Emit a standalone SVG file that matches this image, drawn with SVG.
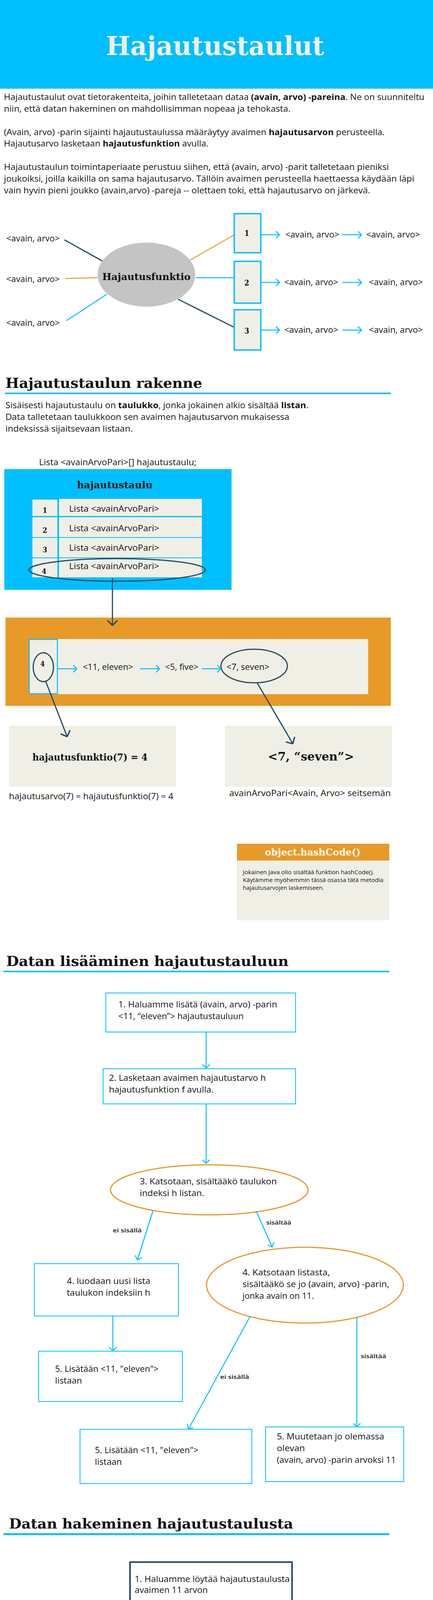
<svg xmlns="http://www.w3.org/2000/svg" width="1109" height="5387" viewBox="0 0 1109 5387">
<defs>
<style>
.t{font-family:"Open Sans","Liberation Sans",sans-serif;font-size:21px;fill:#161616}
.sm{font-size:15px;font-weight:600}
.b{font-weight:bold}
.slab{font-family:"DejaVu Serif Condensed","DejaVu Serif","Liberation Serif",serif;font-weight:bold;fill:#111}
.h2{font-size:36px}
.cream{fill:#f0efe6}
.bbox{fill:#fff;stroke:#00bfff;stroke-width:2}
.dbox{fill:#fff;stroke:#264a60;stroke-width:4}
.cb{stroke:#00bfff;stroke-width:2.5;fill:none}
.cd{stroke:#264a60;stroke-width:3;fill:none}
.co{stroke:#e89a28;stroke-width:2.5;fill:none}
.ul{fill:#00bfff}
</style>
<marker id="arrB" viewBox="0 0 11 20" markerWidth="11" markerHeight="20" refX="10" refY="10" orient="auto" markerUnits="userSpaceOnUse">
<path d="M1,1 L10,10 L1,19" fill="none" stroke="#00bfff" stroke-width="2.5"/>
</marker>
<marker id="arrD" viewBox="0 0 15 28" markerWidth="15" markerHeight="28" refX="14" refY="14" orient="auto" markerUnits="userSpaceOnUse">
<path d="M1,1 L14,14 L1,27" fill="none" stroke="#264a60" stroke-width="3.5"/>
</marker>
</defs>
<rect width="1109" height="5387" fill="#fff"/>

<!-- Header -->
<g id="header">
<rect x="0" y="0" width="1109" height="227" fill="#00bfff"/>
<text class="slab" x="551" y="141" font-size="67" text-anchor="middle" style="fill:#f1f0e8" textLength="559" lengthAdjust="spacingAndGlyphs">Hajautustaulut</text>
</g>

<g id="intro" class="t">
<text class="t" x="10" y="256" textLength="1077" lengthAdjust="spacingAndGlyphs">Hajautustaulut ovat tietorakenteita, joihin talletetaan dataa <tspan class="b">(avain, arvo) -pareina</tspan>. Ne on suunniteltu</text>
<text class="t" x="10" y="286" textLength="734" lengthAdjust="spacingAndGlyphs">niin, että datan hakeminen on mahdollisimman nopeaa ja tehokasta.</text>
<text class="t" x="10" y="346" textLength="975" lengthAdjust="spacingAndGlyphs">(Avain, arvo) -parin sijainti hajautustaulussa määräytyy avaimen <tspan class="b">hajautusarvon</tspan> perusteella.</text>
<text class="t" x="10" y="375" textLength="524" lengthAdjust="spacingAndGlyphs">Hajautusarvo lasketaan <tspan class="b">hajautusfunktion</tspan> avulla.</text>
<text class="t" x="10" y="435" textLength="986" lengthAdjust="spacingAndGlyphs">Hajautustaulun toimintaperiaate perustuu siihen, että (avain, arvo) -parit talletetaan  pieniksi</text>
<text class="t" x="10" y="465" textLength="1051" lengthAdjust="spacingAndGlyphs">joukoiksi, joilla kaikilla on sama hajautusarvo. Tällöin avaimen perusteella haettaessa käydään läpi</text>
<text class="t" x="10" y="495" textLength="938" lengthAdjust="spacingAndGlyphs">vain hyvin pieni joukko (avain,arvo) -pareja -- olettaen toki, että hajautusarvo on järkevä.</text>
</g>

<!-- Section 1 diagram -->
<g id="connectors1">
<line class="cd" x1="165" y1="614" x2="262" y2="668" stroke-width="2"/>
<line class="co" x1="167" y1="713" x2="250" y2="711"/>
<line class="cb" x1="170" y1="821" x2="274" y2="753" stroke-width="2"/>
<line class="co" x1="487" y1="666" x2="600" y2="601" stroke-width="2"/>
<line class="cb" x1="501" y1="711" x2="600" y2="711" stroke-width="2"/>
<line class="cd" x1="456" y1="766" x2="600" y2="838" stroke-width="2"/>
<line class="cb" x1="668" y1="601" x2="716" y2="601" marker-end="url(#arrB)"/>
<line class="cb" x1="877" y1="601" x2="926" y2="601" marker-end="url(#arrB)"/>
<line class="cb" x1="668" y1="723" x2="716" y2="723" marker-end="url(#arrB)"/>
<line class="cb" x1="877" y1="723" x2="926" y2="723" marker-end="url(#arrB)"/>
<line class="cb" x1="668" y1="845" x2="716" y2="845" marker-end="url(#arrB)"/>
<line class="cb" x1="877" y1="845" x2="926" y2="845" marker-end="url(#arrB)"/>
</g>
<g id="in-labels">
<text class="t" x="16" y="618" textLength="137" lengthAdjust="spacingAndGlyphs">&lt;avain, arvo&gt;</text>
<text class="t" x="16" y="722" textLength="137" lengthAdjust="spacingAndGlyphs">&lt;avain, arvo&gt;</text>
<text class="t" x="16" y="834" textLength="137" lengthAdjust="spacingAndGlyphs">&lt;avain, arvo&gt;</text>
</g>
<g id="hashfunc">
<ellipse cx="375" cy="703" rx="125" ry="82" fill="#c4c4c4"/>
<text class="slab" x="375" y="717" font-size="25" text-anchor="middle" textLength="226" lengthAdjust="spacingAndGlyphs">Hajautusfunktio</text>
</g>
<g id="bucket1">
<rect x="600" y="547" width="68" height="100" class="cream" stroke="#00bfff" stroke-width="3.5"/>
<text class="slab" x="632" y="604" font-size="20" text-anchor="middle">1</text>
</g>
<g id="bucket2">
<rect x="600" y="669" width="68" height="107" class="cream" stroke="#00bfff" stroke-width="3.5"/>
<text class="slab" x="632" y="731" font-size="20" text-anchor="middle">2</text>
</g>
<g id="bucket3">
<rect x="600" y="793" width="68" height="103" class="cream" stroke="#00bfff" stroke-width="3.5"/>
<text class="slab" x="632" y="854" font-size="20" text-anchor="middle">3</text>
</g>
<g id="pairs">
<text class="t" x="731" y="608" textLength="138" lengthAdjust="spacingAndGlyphs">&lt;avain, arvo&gt;</text>
<text class="t" x="938" y="608" textLength="138" lengthAdjust="spacingAndGlyphs">&lt;avain, arvo&gt;</text>
<text class="t" x="728" y="730" textLength="138" lengthAdjust="spacingAndGlyphs">&lt;avain, arvo&gt;</text>
<text class="t" x="945" y="730" textLength="138" lengthAdjust="spacingAndGlyphs">&lt;avain, arvo&gt;</text>
<text class="t" x="728" y="852" textLength="138" lengthAdjust="spacingAndGlyphs">&lt;avain, arvo&gt;</text>
<text class="t" x="945" y="852" textLength="138" lengthAdjust="spacingAndGlyphs">&lt;avain, arvo&gt;</text>
</g>

<!-- Section 2 -->
<g id="sec2-head">
<text class="slab h2" x="14" y="993" textLength="504" lengthAdjust="spacingAndGlyphs">Hajautustaulun rakenne</text>
<rect class="ul" x="13" y="1005" width="988" height="4"/>
<text class="t" x="14" y="1045" textLength="776" lengthAdjust="spacingAndGlyphs">Sisäisesti hajautustaulu on <tspan class="b">taulukko</tspan>, jonka jokainen alkio sisältää <tspan class="b">listan</tspan>.</text>
<text class="t" x="14" y="1075" textLength="727" lengthAdjust="spacingAndGlyphs">Data talletetaan taulukkoon sen avaimen hajautusarvon mukaisessa</text>
<text class="t" x="14" y="1105" textLength="326" lengthAdjust="spacingAndGlyphs">indeksissä sijaitsevaan listaan.</text>
<text class="t" x="100" y="1191" textLength="403" lengthAdjust="spacingAndGlyphs">Lista &lt;avainArvoPari&gt;[] hajautustaulu;</text>
</g>
<g id="table">
<rect x="11" y="1201" width="582" height="309" fill="#00bfff"/>
<text class="slab" x="294" y="1250" font-size="24" text-anchor="middle" textLength="194" lengthAdjust="spacingAndGlyphs">hajautustaulu</text>
<rect class="cream" x="83" y="1279" width="64" height="42"/>
<rect class="cream" x="151" y="1277" width="366" height="44"/>
<rect class="cream" x="83" y="1324" width="64" height="51"/>
<rect class="cream" x="151" y="1324" width="366" height="51"/>
<rect class="cream" x="83" y="1377" width="64" height="50"/>
<rect class="cream" x="151" y="1377" width="366" height="50"/>
<rect class="cream" x="83" y="1429" width="64" height="49"/>
<rect class="cream" x="151" y="1429" width="366" height="49"/>
<text class="slab" x="115" y="1313" font-size="19" text-anchor="middle">1</text>
<text class="slab" x="115" y="1364" font-size="19" text-anchor="middle">2</text>
<text class="slab" x="115" y="1414" font-size="19" text-anchor="middle">3</text>
<text class="slab" x="113" y="1469" font-size="19" text-anchor="middle">4</text>
<text class="t" x="177" y="1310" textLength="231" lengthAdjust="spacingAndGlyphs">Lista &lt;avainArvoPari&gt;</text>
<text class="t" x="177" y="1360" textLength="231" lengthAdjust="spacingAndGlyphs">Lista &lt;avainArvoPari&gt;</text>
<text class="t" x="177" y="1410" textLength="231" lengthAdjust="spacingAndGlyphs">Lista &lt;avainArvoPari&gt;</text>
<text class="t" x="177" y="1457" textLength="231" lengthAdjust="spacingAndGlyphs">Lista &lt;avainArvoPari&gt;</text>
<ellipse cx="300" cy="1459" rx="226" ry="29" class="cd"/>
</g>
<g id="bucket-list">
<rect x="14" y="1581" width="987" height="226" fill="#e89a28"/>
<rect class="cream" x="74" y="1636" width="869" height="141"/>
<rect x="75" y="1637" width="72" height="139" fill="none" stroke="#00bfff" stroke-width="2.5"/>
<ellipse cx="111" cy="1708" rx="26" ry="37" class="cd" stroke-width="2.5"/>
<text class="slab" x="109" y="1706" font-size="18" text-anchor="middle">4</text>
<text class="t" x="212" y="1715" textLength="129" lengthAdjust="spacingAndGlyphs">&lt;11, eleven&gt;</text>
<text class="t" x="423" y="1715" textLength="85" lengthAdjust="spacingAndGlyphs">&lt;5, five&gt;</text>
<text class="t" x="580" y="1715" textLength="110" lengthAdjust="spacingAndGlyphs">&lt;7, seven&gt;</text>
<ellipse cx="651" cy="1705" rx="85" ry="43" class="cd" stroke-width="2.5"/>
</g>
<g id="hash-result">
<rect class="cream" x="23" y="1858" width="428" height="156"/>
<text class="slab" x="83" y="1947" font-size="24" textLength="295" lengthAdjust="spacingAndGlyphs">hajautusfunktio(7) = 4</text>
<text class="t" x="23" y="2046" textLength="421" lengthAdjust="spacingAndGlyphs">hajautusarvo(7) = hajautusfunktio(7) = 4</text>
</g>
<g id="pair-result">
<rect class="cream" x="576" y="1858" width="428" height="156"/>
<text class="slab" x="686" y="1947" font-size="30" textLength="221" lengthAdjust="spacingAndGlyphs">&lt;7, “seven”&gt;</text>
<text class="t" x="587" y="2038" textLength="414" lengthAdjust="spacingAndGlyphs">avainArvoPari&lt;Avain, Arvo&gt; seitsemän</text>
</g>
<g id="connectors2">
<line class="cd" x1="288" y1="1480" x2="288" y2="1601" marker-end="url(#arrD)"/>
<line class="cb" x1="147" y1="1712" x2="197" y2="1712" marker-end="url(#arrB)"/>
<line class="cb" x1="358" y1="1712" x2="409" y2="1712" marker-end="url(#arrB)"/>
<line class="cb" x1="517" y1="1712" x2="566" y2="1712" marker-end="url(#arrB)"/>
<line class="cd" x1="117" y1="1744" x2="172" y2="1886" marker-end="url(#arrD)"/>
<line class="cd" x1="658" y1="1747" x2="750" y2="1904" marker-end="url(#arrD)"/>
</g>
<g id="hashcode">
<rect x="607" y="2160" width="390" height="43" fill="#e89a28"/>
<rect class="cream" x="607" y="2203" width="390" height="153"/>
<text class="slab" x="801" y="2190" font-size="24" text-anchor="middle" style="fill:#fff" textLength="245" lengthAdjust="spacingAndGlyphs">object.hashCode()</text>
<text class="t" x="622" y="2238" font-size="14.5" style="font-size:14.5px" textLength="336" lengthAdjust="spacingAndGlyphs">Jokainen Java olio sisältää funktion hashCode().</text>
<text class="t" x="622" y="2258" style="font-size:14.5px" textLength="360" lengthAdjust="spacingAndGlyphs">Käytämme myöhemmin tässä osassa tätä metodia</text>
<text class="t" x="622" y="2278" style="font-size:14.5px" textLength="208" lengthAdjust="spacingAndGlyphs">hajautusarvojen laskemiseen.</text>
</g>

<!-- Section 3 -->
<g id="sec3-head">
<text class="slab h2" x="16" y="2473" textLength="723" lengthAdjust="spacingAndGlyphs">Datan lisääminen hajautustauluun</text>
<rect class="ul" x="9" y="2485" width="988" height="4"/>
</g>
<g id="add1">
<rect class="bbox" x="271" y="2542" width="486" height="100"/>
<text class="t" x="303" y="2579" textLength="407" lengthAdjust="spacingAndGlyphs">1. Haluamme lisätä (avain, arvo) -parin</text>
<text class="t" x="303" y="2609" textLength="321" lengthAdjust="spacingAndGlyphs">&lt;11, “eleven”&gt; hajautustauluun</text>
</g>
<g id="add2">
<rect class="bbox" x="264" y="2736" width="493" height="90"/>
<text class="t" x="279" y="2767" textLength="402" lengthAdjust="spacingAndGlyphs">2. Lasketaan avaimen hajautustarvo h</text>
<text class="t" x="279" y="2797" textLength="268" lengthAdjust="spacingAndGlyphs">hajautusfunktion f avulla.</text>
</g>
<g id="add3">
<ellipse cx="536" cy="3046" rx="253" ry="64" fill="none" stroke="#e89a28" stroke-width="3"/>
<text class="t" x="358" y="3032" textLength="351" lengthAdjust="spacingAndGlyphs">3. Katsotaan, sisältääkö taulukon</text>
<text class="t" x="358" y="3062" textLength="165" lengthAdjust="spacingAndGlyphs">indeksi h listan.</text>
</g>
<g id="add4a">
<rect class="bbox" x="88" y="3235" width="369" height="134"/>
<text class="t" x="171" y="3287" textLength="214" lengthAdjust="spacingAndGlyphs">4. luodaan uusi lista</text>
<text class="t" x="171" y="3317" textLength="214" lengthAdjust="spacingAndGlyphs">taulukon indeksiin h</text>
</g>
<g id="add4b">
<ellipse cx="781" cy="3290" rx="252" ry="97" fill="none" stroke="#e89a28" stroke-width="3"/>
<text class="t" x="621" y="3265" textLength="224" lengthAdjust="spacingAndGlyphs">4. Katsotaan listasta,</text>
<text class="t" x="621" y="3295" textLength="376" lengthAdjust="spacingAndGlyphs">sisältääkö se jo (avain, arvo) -parin,</text>
<text class="t" x="621" y="3325" textLength="183" lengthAdjust="spacingAndGlyphs">jonka avain on 11.</text>
</g>
<g id="add5a">
<rect class="bbox" x="99" y="3459" width="368" height="129"/>
<text class="t" x="141" y="3512" textLength="265" lengthAdjust="spacingAndGlyphs">5. Lisätään &lt;11, "eleven"&gt;</text>
<text class="t" x="141" y="3542" textLength="69" lengthAdjust="spacingAndGlyphs">listaan</text>
</g>
<g id="add5b">
<rect class="bbox" x="205" y="3659" width="440" height="139"/>
<text class="t" x="243" y="3720" textLength="265" lengthAdjust="spacingAndGlyphs">5. Lisätään &lt;11, "eleven"&gt;</text>
<text class="t" x="243" y="3750" textLength="69" lengthAdjust="spacingAndGlyphs">listaan</text>
</g>
<g id="add5c">
<rect class="bbox" x="680" y="3653" width="354" height="140"/>
<text class="t" x="709" y="3685" textLength="275" lengthAdjust="spacingAndGlyphs">5. Muutetaan jo olemassa</text>
<text class="t" x="709" y="3715" textLength="72" lengthAdjust="spacingAndGlyphs">olevan</text>
<text class="t" x="709" y="3745" textLength="305" lengthAdjust="spacingAndGlyphs">(avain, arvo) -parin arvoksi 11</text>
</g>
<g id="connectors3">
<line class="cb" x1="528" y1="2642" x2="528" y2="2734" stroke-width="2" marker-end="url(#arrB)"/>
<line class="cb" x1="528" y1="2826" x2="528" y2="2978" stroke-width="2" marker-end="url(#arrB)"/>
<line class="cb" x1="392" y1="3099" x2="352" y2="3225" stroke-width="2" marker-end="url(#arrB)"/>
<line class="cb" x1="656" y1="3100" x2="697" y2="3192" stroke-width="2" marker-end="url(#arrB)"/>
<line class="cb" x1="289" y1="3369" x2="289" y2="3458" stroke-width="2" marker-end="url(#arrB)"/>
<line class="cb" x1="640" y1="3371" x2="483" y2="3658" stroke-width="2" marker-end="url(#arrB)"/>
<line class="cb" x1="914" y1="3372" x2="914" y2="3653" stroke-width="2" marker-end="url(#arrB)"/>
<text class="t sm" x="289" y="3155" textLength="74" lengthAdjust="spacingAndGlyphs">ei sisällä</text>
<text class="t sm" x="682" y="3135" textLength="64" lengthAdjust="spacingAndGlyphs">sisältää</text>
<text class="t sm" x="564" y="3530" textLength="74" lengthAdjust="spacingAndGlyphs">ei sisällä</text>
<text class="t sm" x="924" y="3477" textLength="65" lengthAdjust="spacingAndGlyphs">sisältää</text>
</g>

<!-- Section 4 -->
<g id="sec4-head">
<text class="slab h2" x="23" y="3913" textLength="728" lengthAdjust="spacingAndGlyphs">Datan hakeminen hajautustaulusta</text>
<rect class="ul" x="9" y="3925" width="988" height="5"/>
</g>
<g id="get1">
<rect class="dbox" x="333" y="3999" width="415" height="116"/>
<text class="t" x="345" y="4050" textLength="397" lengthAdjust="spacingAndGlyphs">1. Haluamme löytää hajautustaulusta</text>
<text class="t" x="345" y="4078" textLength="187" lengthAdjust="spacingAndGlyphs">avaimen 11 arvon</text>
</g>
<g id="get2">
<rect x="337" y="4183" width="414" height="242" fill="#fff" stroke="#4d6b7d" stroke-width="1.5"/>
<text class="t" x="347" y="4286" textLength="401" lengthAdjust="spacingAndGlyphs">2. Lasketaan avaimen hajautustarvo h</text>
<text class="t" x="347" y="4315" textLength="268" lengthAdjust="spacingAndGlyphs">hajautusfunktion f avulla.</text>
</g>
<g id="get3">
<rect class="dbox" x="337" y="4493" width="414" height="116"/>
<text class="t" x="354" y="4552" textLength="301" lengthAdjust="spacingAndGlyphs">3. Haetaan lista indeksistä h</text>
</g>
<g id="get4">
<rect class="dbox" x="337" y="4692" width="414" height="127"/>
<text class="t" x="355" y="4740" textLength="361" lengthAdjust="spacingAndGlyphs">4. Käydään lista läpi pari parilta, ja</text>
<text class="t" x="355" y="4767" textLength="324" lengthAdjust="spacingAndGlyphs">verrataa jokaisen parin avainta</text>
<text class="t" x="355" y="4795" textLength="262" lengthAdjust="spacingAndGlyphs">hakemaamme avaimeen</text>
</g>
<g id="get5">
<ellipse cx="537" cy="4981" rx="212" ry="83" fill="#e99c2b"/>
<text class="t" x="357" y="4977" style="fill:#fff" textLength="373" lengthAdjust="spacingAndGlyphs">5. Lista sisältää (avain, arvo) -parin,</text>
<text class="t" x="357" y="5005" style="fill:#fff" textLength="194" lengthAdjust="spacingAndGlyphs">jonka avain on 11?</text>
</g>
<g id="get6a">
<rect class="dbox" x="74" y="5225" width="413" height="116"/>
<text class="t" x="113" y="5290" textLength="334" lengthAdjust="spacingAndGlyphs">6. Palautetaan avaimen 11 arvo</text>
</g>
<g id="get6b">
<rect class="dbox" x="622" y="5225" width="415" height="116"/>
<text class="t" x="731" y="5296" textLength="196" lengthAdjust="spacingAndGlyphs">6. Palautetaan null</text>
</g>
<g id="connectors4">
<line class="cd" x1="535" y1="4115" x2="535" y2="4182" marker-end="url(#arrD)"/>
<line class="cd" x1="535" y1="4425" x2="535" y2="4492" marker-end="url(#arrD)"/>
<line class="cd" x1="535" y1="4609" x2="535" y2="4690" marker-end="url(#arrD)"/>
<line class="cd" x1="535" y1="4819" x2="535" y2="4898" marker-end="url(#arrD)"/>
<line class="cd" x1="442" y1="5055" x2="382" y2="5223" marker-end="url(#arrD)"/>
<line class="cd" x1="647" y1="5049" x2="718" y2="5223" marker-end="url(#arrD)"/>
<text class="t" x="344" y="5147" textLength="46" lengthAdjust="spacingAndGlyphs">kyllä</text>
<text class="t" x="705" y="5132">ei</text>
</g>
</svg>
